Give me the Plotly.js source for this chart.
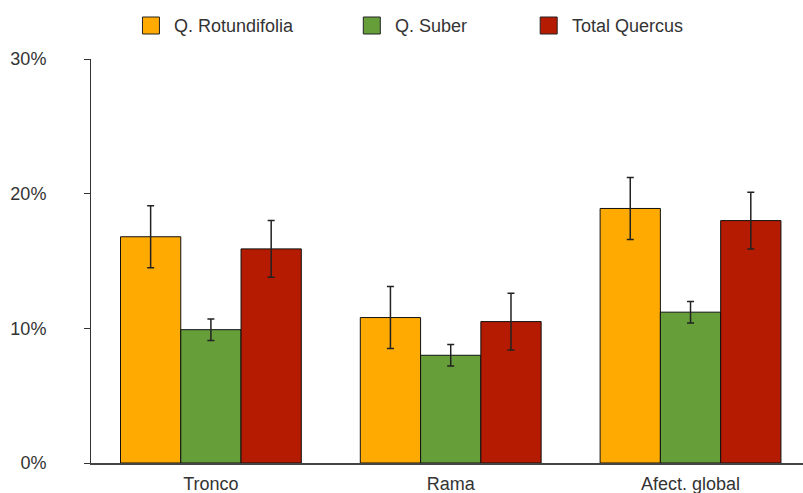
<!DOCTYPE html>
<html>
<head>
<meta charset="utf-8">
<script src="https://cdn.plot.ly/plotly-3.0.1.min.js"></script>
<style>html,body{margin:0;padding:0;background:#fff;}#chart{width:803px;height:493px;}</style>
</head>
<body>
<div id="chart"></div>
<script>
const categories = ["Tronco", "Rama", "Afect. global"];
const seriesNames = ["Q. Rotundifolia", "Q. Suber", "Total Quercus"];
const rotundifolia = [16.8, 10.8, 18.9];
const rotundifoliaErr = [2.3, 2.3, 2.3];
const suber = [9.9, 8.0, 11.2];
const suberErr = [0.8, 0.8, 0.8];
const totalQuercus = [15.9, 10.5, 18.0];
const totalQuercusErr = [2.1, 2.1, 2.1];
const tickVals = [0, 10, 20, 30];
const tickText = ["0%", "10%", "20%", "30%"];

const colors = ["#FFAA00", "#669E3A", "#B41B00"];
const values = [rotundifolia, suber, totalQuercus];
const errs = [rotundifoliaErr, suberErr, totalQuercusErr];

const W = 803, H = 493;
const margin = {l: 90.5, r: 0, t: 59, b: 30};
const plotW = W - margin.l - margin.r, plotH = H - margin.t - margin.b;
const px2x = p => (p - margin.l) / plotW;
const py2y = p => (H - margin.b - p) / plotH;

const traces = values.map((v, i) => ({
  type: "bar",
  name: seriesNames[i],
  x: categories,
  y: v,
  marker: {color: colors[i], line: {color: "#111", width: 1}},
  error_y: {type: "data", array: errs[i], visible: true, color: "#222", thickness: 1.5, width: 3.5},
  showlegend: false,
  hoverinfo: "skip"
}));

const fam = "Liberation Sans, Arial, sans-serif";
const textColor = "#333";

// manual legend (swatch + label)
const legendLeft = [142, 363, 540];
const shapes = [], annotations = [];
seriesNames.forEach((n, i) => {
  const x0 = legendLeft[i];
  shapes.push({type: "rect", xref: "paper", yref: "paper",
    x0: px2x(x0), x1: px2x(x0 + 17), y0: py2y(34), y1: py2y(17),
    fillcolor: colors[i], line: {color: "#222", width: 1}});
  annotations.push({xref: "paper", yref: "paper", x: px2x(x0 + 30), y: py2y(25.5),
    xanchor: "left", yanchor: "middle", showarrow: false, text: n,
    font: {family: fam, size: 18, color: textColor}});
});

const layout = {
  width: W, height: H,
  margin: Object.assign({pad: 0}, margin),
  paper_bgcolor: "#fff", plot_bgcolor: "#fff",
  font: {family: fam, size: 18, color: textColor},
  barmode: "group",
  bargap: 0.246,
  bargroupgap: 0,
  showlegend: false,
  shapes: shapes,
  annotations: annotations,
  xaxis: {
    type: "category",
    range: [-0.5, 2.469],
    showline: true, linecolor: "#444", linewidth: 1.5,
    ticks: "", showgrid: false, zeroline: false,
    ticklabelstandoff: 4,
    tickfont: {family: fam, size: 18, color: textColor},
    fixedrange: true
  },
  yaxis: {
    range: [0, 30],
    tickvals: tickVals, ticktext: tickText,
    ticks: "outside", ticklen: 6, tickcolor: "#333", tickwidth: 1,
    showline: true, linecolor: "#333", linewidth: 1,
    showgrid: false, zeroline: false,
    ticklabelstandoff: 34,
    tickfont: {family: fam, size: 18, color: textColor},
    fixedrange: true
  }
};

Plotly.newPlot("chart", traces, layout, {staticPlot: true, displayModeBar: false});
</script>
</body>
</html>
